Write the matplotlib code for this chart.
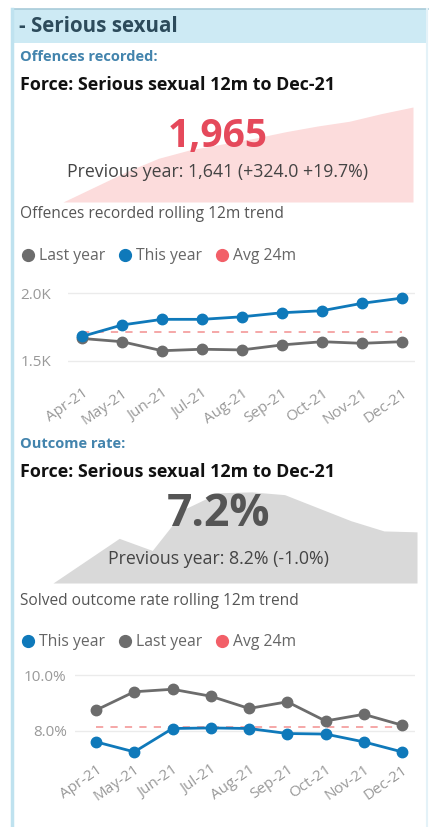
import matplotlib
matplotlib.use("Agg")
import matplotlib.pyplot as plt
from matplotlib.patches import Rectangle
from matplotlib.lines import Line2D

plt.rcParams['font.family'] = ['Open Sans', 'DejaVu Sans']

W, H = 432, 827

months = ["Apr-21", "May-21", "Jun-21", "Jul-21", "Aug-21", "Sep-21", "Oct-21", "Nov-21", "Dec-21"]

# offences recorded, rolling 12m
off_this = [1680, 1765, 1807, 1807, 1826, 1856, 1871, 1926, 1965]
off_last = [1665, 1641, 1574, 1585, 1580, 1617, 1641, 1629, 1641]
off_avg = 1713
off_ticks = [1500, 2000]
off_ticklabels = ["1.5K", "2.0K"]

# solved outcome rate, rolling 12m (%)
rate_this = [7.60, 7.24, 8.08, 8.10, 8.08, 7.90, 7.88, 7.60, 7.24]
rate_last = [8.74, 9.40, 9.49, 9.24, 8.80, 9.04, 8.35, 8.59, 8.20]
rate_avg = 8.14
rate_ticks = [8, 10]
rate_ticklabels = ["8.0%", "10.0%"]

# background sparklines of the KPI cards (relative height)
spark_off = [0, 16, 32, 46, 55, 61, 67, 74, 80, 85, 93, 100]
spark_rate = [0, 24, 48, 35, 80, 97, 98, 95, 81, 67, 56, 55]

BLUE = "#0f79ba"
GREY = "#6c6c6c"
RED = "#f25f68"

fig = plt.figure(figsize=(W / 100, H / 100), dpi=100)
fig.patch.set_facecolor("white")


def px_axes(x0, y0, x1, y1):
    return fig.add_axes([x0 / W, 1 - y1 / H, (x1 - x0) / W, (y1 - y0) / H])


def txt(x, y, s, **kw):
    fig.text(x / W, 1 - y / H, s, **kw)


# card frame and header band
fig.add_artist(Rectangle((12 / W, 1 - 43 / H), 416 / W, 34 / H, transform=fig.transFigure,
                         facecolor="#cdeaf4", edgecolor="none", zorder=0))
fig.add_artist(Line2D([12 / W, 428 / W], [1 - 9 / H, 1 - 9 / H], transform=fig.transFigure,
                      color="#a8cbd9", lw=1.2))
fig.add_artist(Line2D([11.5 / W, 11.5 / W], [1 - 9 / H, 0], transform=fig.transFigure,
                      color="#bfe2ef", lw=2.5))
fig.add_artist(Line2D([427 / W, 427 / W], [1 - 9 / H, 0], transform=fig.transFigure,
                      color="#e4f2f8", lw=1.5))

txt(19, 27, "- Serious sexual", fontsize=14.8, fontweight="bold", color="#2d4b5b", va="center")


def spark(x0, y0, x1, y1, vals, color):
    ax = px_axes(x0, y0, x1, y1)
    xs = range(len(vals))
    ax.fill_between(xs, vals, 0, color=color, lw=0)
    ax.set_xlim(0, len(vals) - 1)
    ax.set_ylim(0, 100)
    ax.axis("off")


def kpi_block(top, label, big, big_color, big_size, big_dy, prev, caption, spark_vals, spark_color, spark_box):
    spark(*spark_box, spark_vals, spark_color)
    txt(20, top, label, fontsize=10.5, fontweight="bold", color="#4384ad", va="center")
    txt(20, top + 28, "Force: Serious sexual 12m to Dec-21", fontsize=12.9, fontweight="bold",
        color="#111111", va="center")
    txt(218, top + big_dy, big, fontsize=big_size, fontweight="bold", color=big_color,
        ha="center", va="center")
    txt(218, top + 115, prev, fontsize=12.8, color="#444444", ha="center", va="center")
    txt(20, top + 157, caption, fontsize=11.2, color="#555555", va="center")


def trend(box, xpad, ylim, this, last, avg, ticks, ticklabels, order, legend_y, tick_pad, ylab_pad):
    ax = px_axes(*box)
    xs = range(len(months))
    ax.plot(xs, [avg] * len(months), color="#f4a0a0", lw=1.3, dashes=(4, 4), zorder=1)
    ax.plot(xs, last, color=GREY, lw=2, marker="o", ms=7.5, zorder=2, label="Last year")
    ax.plot(xs, this, color=BLUE, lw=2, marker="o", ms=7.5, zorder=3, label="This year")
    ax.set_xlim(-xpad[0], len(months) - 1 + xpad[1])
    ax.set_ylim(*ylim)
    ax.set_yticks(ticks)
    ax.set_yticklabels(ticklabels)
    ax.set_xticks(list(xs))
    ax.set_xticklabels(months, rotation=35, ha="right", rotation_mode="anchor")
    ax.tick_params(length=0, labelsize=11, labelcolor="#999999")
    ax.tick_params(axis="x", pad=tick_pad)
    ax.tick_params(axis="y", pad=ylab_pad)
    ax.grid(axis="y", color="#ebebeb", lw=1)
    ax.set_axisbelow(True)
    for s in ax.spines.values():
        s.set_visible(False)
    ax.set_facecolor("none")
    handles = {
        "Last year": Line2D([], [], ls="none", marker="o", ms=8.5, color=GREY),
        "This year": Line2D([], [], ls="none", marker="o", ms=8.5, color=BLUE),
        "Avg 24m": Line2D([], [], ls="none", marker="o", ms=8.5, color=RED),
    }
    fig.legend([handles[k] for k in order], order, loc="center left",
               bbox_to_anchor=(8 / W, 1 - legend_y / H), ncol=3, frameon=False,
               handlelength=0.8, handletextpad=0.3, columnspacing=0.85,
               fontsize=11.3, labelcolor="#666666")
    return ax


kpi_block(57, "Offences recorded:", "1,965", "#e5495b", 28, 79,
          "Previous year: 1,641 (+324.0 +19.7%)", "Offences recorded rolling 12m trend",
          spark_off, "#fcdcdc", (63, 107, 413, 202))

trend((68, 285, 415, 372), (0.35, 0.325), (1416, 2062), off_this, off_last, off_avg,
      off_ticks, off_ticklabels, ["Last year", "This year", "Avg 24m"], 256, 10, 12)

kpi_block(444, "Outcome rate:", "7.2%", "#555555", 32, 70,
          "Previous year: 8.2% (-1.0%)", "Solved outcome rate rolling 12m trend",
          spark_rate, "#d9d9d9", (53, 490, 417, 583))

trend((75, 667, 415, 758), (0.55, 0.34), (7.02, 10.29), rate_this, rate_last, rate_avg,
      rate_ticks, rate_ticklabels, ["This year", "Last year", "Avg 24m"], 642, 3, 6)

fig.savefig("out.png", dpi=100)
